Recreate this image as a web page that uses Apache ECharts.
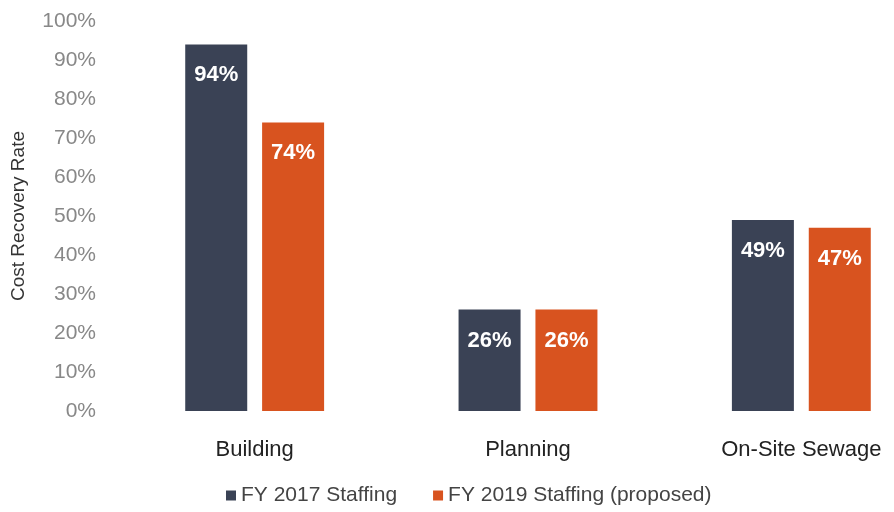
<!DOCTYPE html>
<html>
<head>
<meta charset="utf-8">
<script src="https://cdn.jsdelivr.net/npm/echarts@6/dist/echarts.min.js"></script>
<style>html,body{margin:0;padding:0;background:#fff;overflow:hidden;width:894px;height:512px;}#c{width:938px;height:512px;}</style>
</head>
<body>
<div id="c"></div>
<script>
var categories = ['Building', 'Planning', 'On-Site Sewage'];
var seriesNames = ['FY 2017 Staffing', 'FY 2019 Staffing (proposed)'];
var fy2017 = [94, 26, 49];
var fy2019 = [74, 26, 47];
var yTicks = [0, 10, 20, 30, 40, 50, 60, 70, 80, 90, 100];

var chart = echarts.init(document.getElementById('c'));
var font = "'Liberation Sans', Arial, sans-serif";
var labelStyle = {
  show: true, position: 'insideTop', distance: 20,
  formatter: '{c}%', color: '#fff', fontWeight: 'bold',
  fontSize: 22, fontFamily: font
};
chart.setOption({
  animation: false,
  textStyle: { fontFamily: font },
  grid: { left: 118, right: 0, top: 21, bottom: 101, containLabel: false },
  legend: {
    bottom: 1, left: 221, itemWidth: 10, itemHeight: 10, itemGap: 36,
    icon: 'rect',
    textStyle: { color: '#444', fontSize: 21, fontFamily: font },
    data: seriesNames
  },
  xAxis: {
    type: 'category', data: categories,
    axisLine: { show: false }, axisTick: { show: false },
    axisLabel: { color: '#222', fontSize: 22, margin: 28, fontFamily: font }
  },
  yAxis: {
    type: 'value', min: yTicks[0], max: yTicks[yTicks.length - 1], interval: 10,
    name: 'Cost Recovery Rate', nameLocation: 'middle', nameGap: 90,
    nameTextStyle: { color: '#333', fontSize: 19, fontFamily: font },
    axisLine: { show: false }, axisTick: { show: false }, splitLine: { show: false },
    axisLabel: { color: '#888', fontSize: 21, margin: 22, formatter: '{value}%', fontFamily: font }
  },
  series: [
    { name: seriesNames[0], type: 'bar', data: fy2017, barWidth: 62, barGap: '24%',
      itemStyle: { color: '#3a4255' }, label: labelStyle },
    { name: seriesNames[1], type: 'bar', data: fy2019, barWidth: 62,
      itemStyle: { color: '#d8531f' }, label: labelStyle }
  ]
});
</script>
</body>
</html>
